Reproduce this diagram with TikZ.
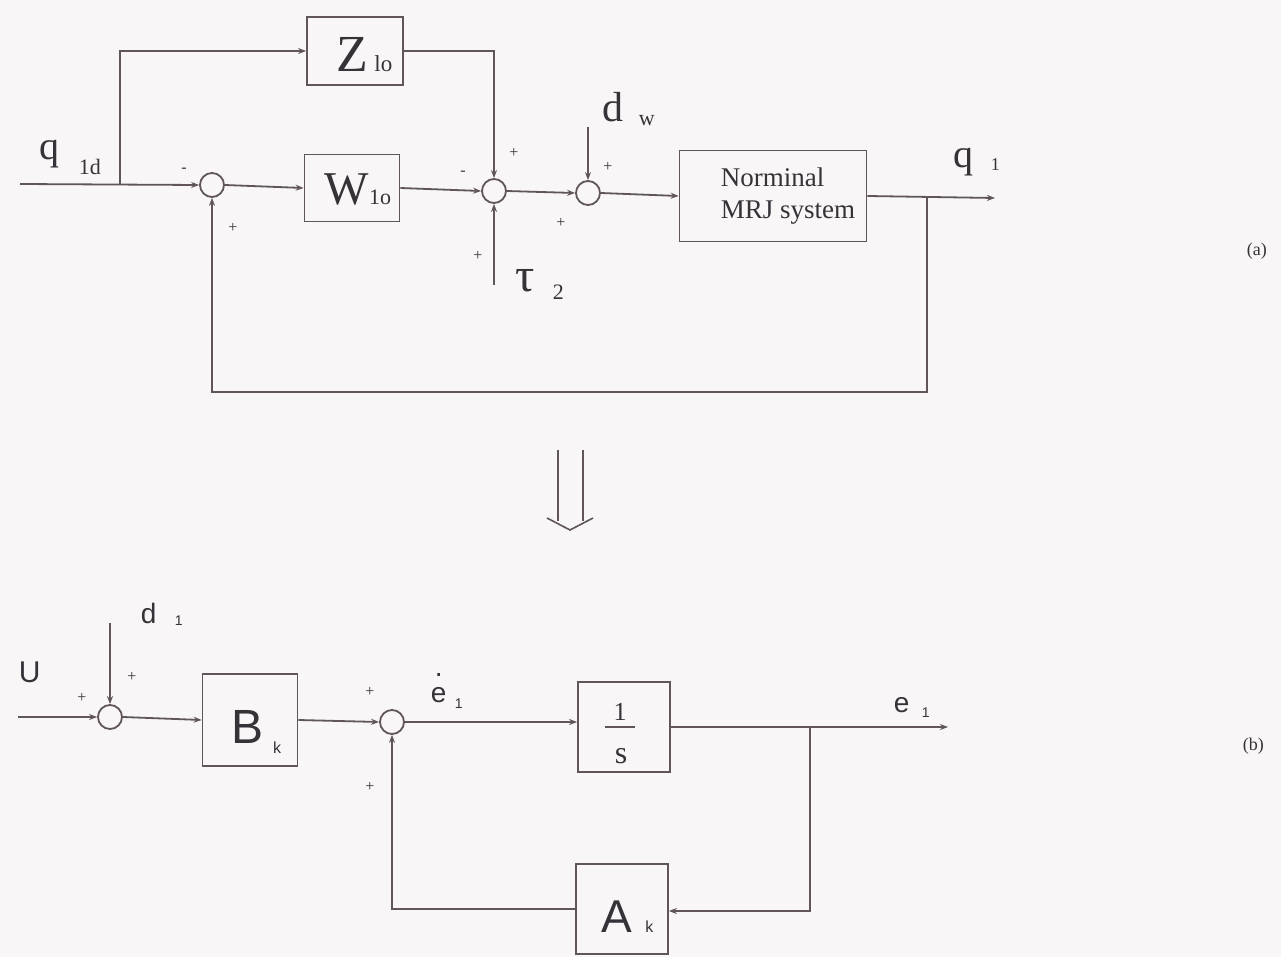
\documentclass[tikz,border=0pt]{standalone}
\usepackage{fontspec}
\setmainfont{Liberation Serif}
\newfontfamily\hvf{Liberation Sans}
\usetikzlibrary{arrows.meta}
\newcommand{\fsz}[1]{\fontsize{#1}{#1}\selectfont}
\definecolor{bg}{RGB}{248,246,247}
\definecolor{ln}{RGB}{95,85,90}
\definecolor{tx}{RGB}{55,50,55}
\begin{document}
\begin{tikzpicture}[x=0.5pt,y=-0.5pt,
  line width=0.9pt,
  wire/.style={draw=ln},
  arr/.style={draw=ln,-{Stealth[length=4pt,width=3pt]}},
  blk/.style={draw=ln,rectangle,inner sep=0pt,text=tx},
  sumj/.style={draw=ln,circle,minimum size=12pt,inner sep=0pt},
  lbl/.style={inner sep=0pt,text=tx,anchor=base west},
  sgn/.style={inner sep=0pt,text=tx,font=\fsz{8}},
]
\fill[bg] (0,0) rectangle (1281,957);
\useasboundingbox (0,0) rectangle (1281,957);

% ---------- (a) ----------
\node[blk,minimum width=48pt,minimum height=34pt,text height=21pt,text depth=0pt] (Z) at (355,51)
  {\hspace{9.5pt}\fsz{26}Z\hspace{3pt}{\fsz{11.5}lo}};
\node[blk,minimum width=47.5pt,minimum height=33.5pt,text height=17pt,text depth=0pt] (W) at (352,188)
  {\hspace{6pt}\fsz{23.5}W{\fsz{11}1o}};
\node[blk,minimum width=93.5pt,minimum height=45.5pt] (P) at (773,196)
  {\hspace{15pt}\fontsize{13.5}{16}\selectfont\begin{tabular}{@{}l@{}}Norminal\\MRJ system\end{tabular}};
\node[sumj] (s1) at (212,185) {};
\node[sumj] (s2) at (494,191) {};
\node[sumj] (s3) at (588,193) {};

\coordinate (qin) at (20,184);
\coordinate (br1) at (120,184);
\coordinate (qout) at (995,198);
\coordinate (br2) at (927,198);
\coordinate (fb) at (927,392);
\coordinate (tau) at (494,285);
\coordinate (dw) at (588,127);

\draw[arr] (qin) -- (s1.west);
\draw[arr] (br1) |- (Z.west);
\draw[arr] (Z.east) -| (s2.north);
\draw[arr] (s1.east) -- (W.west);
\draw[arr] (W.east) -- (s2.west);
\draw[arr] (s2.east) -- (s3.west);
\draw[arr] (s3.east) -- (P.west);
\draw[arr] (P.east) -- (qout);
\draw[arr] (br2) -- (fb) -| (s1.south);
\draw[arr] (tau) -- (s2.south);
\draw[arr] (dw) -- (s3.north);

\node[lbl] (lq) at (39,160) {\fsz{20}q};
\node[lbl] (lq1d) at (78,175) {\fsz{11}1d};
\node[lbl] (ldw) at (602,122) {\fsz{21}d};
\node[lbl] (ldws) at (638,126) {\fsz{11}w};
\node[lbl] (lq1) at (953,168) {\fsz{20}q};
\node[lbl] (lq1s) at (990,171) {\fsz{9}1};
\node[lbl] (ltau) at (515,292) {\fsz{24}τ};
\node[lbl] (ltaus) at (552,300) {\fsz{11}2};
\node[lbl] (la) at (1246,256) {\fsz{9}(a)};

\node[sgn] (m1) at (184,170) {-};
\node[sgn] (p1) at (233,228) {+};
\node[sgn] (m2) at (463,173) {-};
\node[sgn] (p2) at (514,153) {+};
\node[sgn] (p3) at (478,256) {+};
\node[sgn] (p4) at (561,223) {+};
\node[sgn] (p5) at (608,167) {+};

% ---------- arrow between ----------
\draw[ln,line width=0.8pt] (558,450) -- (558,521);
\draw[ln,line width=0.8pt] (583,450) -- (583,521);
\draw[ln,line width=0.8pt] (547,518) -- (570,530) -- (593,518);

% ---------- (b) ----------
\node[sumj] (s4) at (110,717) {};
\node[sumj] (s5) at (392,722) {};
\node[blk,minimum width=47.5pt,minimum height=46pt,text height=23pt,text depth=0pt] (B) at (250,720)
  {\hspace{6.5pt}\hvf\fsz{24}B\hspace{4.5pt}\raisebox{-5pt}{\fsz{8}k}};
\node[blk,minimum width=46pt,minimum height=45pt] (I) at (624,727) {};
\node[blk,minimum width=46pt,minimum height=45pt,text height=23pt,text depth=0pt] (A) at (622,909)
  {\hspace{5.5pt}\hvf\fsz{23}A\hspace{6.5pt}{\fsz{8}k}};

\node[lbl,anchor=base] (one) at (620,720) {\fsz{13}1};
\draw[wire] (605,727) -- (635,727);
\node[lbl,anchor=base] (ls) at (621,763) {\fsz{16}s};

\coordinate (uin) at (18,717);
\coordinate (d1) at (110,623);
\coordinate (eout) at (948,727);
\coordinate (br3) at (810,727);
\coordinate (fb2) at (810,911);

\draw[arr] (uin) -- (s4.west);
\draw[arr] (d1) -- (s4.north);
\draw[arr] (s4.east) -- (B.west);
\draw[arr] (B.east) -- (s5.west);
\draw[arr] (s5.east) -- (s5.east -| I.west);
\draw[arr] (I.east) -- (eout);
\draw[arr] (br3) -- (fb2) -- (A.east |- fb2);
\draw[arr] (A.west) -| (s5.south);

\node[lbl] (lU) at (18,682) {\hvf\fsz{15}U};
\node[lbl] (ld1) at (140,623) {\hvf\fsz{14}d};
\node[lbl] (ld1s) at (174,625) {\hvf\fsz{7}1};
\node[lbl] (led) at (430,702) {\hvf\fsz{14}\makebox[0pt][l]{\hspace{0.14em}\raisebox{0.9em}{.}}e};
\node[lbl] (leds) at (454,708) {\hvf\fsz{7}1};
\node[lbl] (le1) at (893,712) {\hvf\fsz{14}e};
\node[lbl] (le1s) at (921,717) {\hvf\fsz{7}1};
\node[lbl] (lb) at (1242,750) {\fsz{9}(b)};

\node[sgn] (p6) at (82,698) {+};
\node[sgn] (p7) at (132,677) {+};
\node[sgn] (p8) at (370,692) {+};
\node[sgn] (p9) at (370,787) {+};
\end{tikzpicture}
\end{document}
